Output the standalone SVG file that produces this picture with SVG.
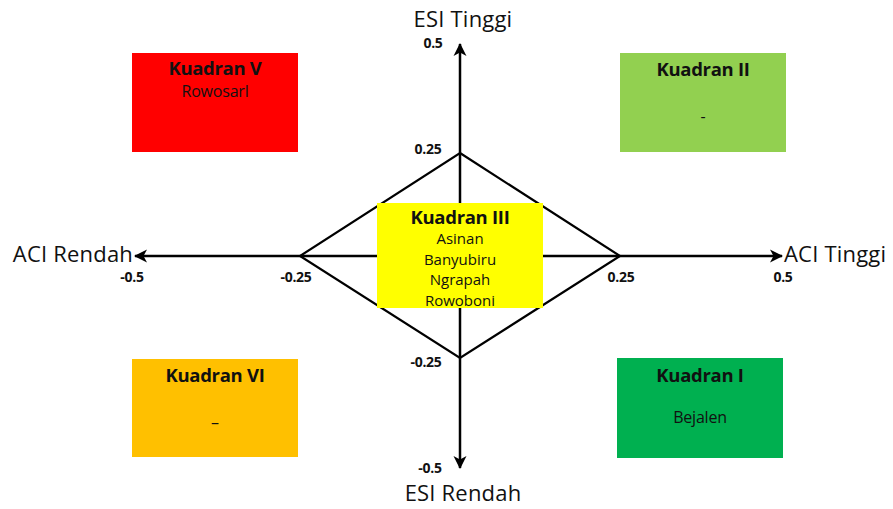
<svg xmlns="http://www.w3.org/2000/svg" width="893" height="509" viewBox="0 0 893 509">
<style>
text{font-family:"Open Sans","Noto Sans",sans-serif;fill:#111;}
.t{font-size:18.5px;font-weight:bold;text-anchor:middle;letter-spacing:-0.3px;}
.s{font-size:16px;font-weight:500;text-anchor:middle;letter-spacing:-0.2px;}
.s3{font-size:15px;font-weight:500;text-anchor:middle;letter-spacing:0px;}
.n{font-size:14px;font-weight:bold;text-anchor:middle;letter-spacing:-0.3px;}
.ax{font-size:22px;font-weight:500;letter-spacing:0.2px;}
.axis{stroke:#000;stroke-width:2.5;fill:none;}
.dia{stroke:#000;stroke-width:2.2;fill:none;}
</style>
<defs>
<marker id="arr" viewBox="0 0 14 14" refX="12" refY="7" markerWidth="14" markerHeight="14" markerUnits="userSpaceOnUse" orient="auto">
<path d="M0,0.5 L13,7 L0,13.5 L3.5,7 Z" fill="#000"/>
</marker>
</defs>
<g id="connectors">
<polygon class="dia" points="460,153 620,256 460,358 300,256"/>
<line class="axis" x1="460" y1="256" x2="460" y2="44" marker-end="url(#arr)"/>
<line class="axis" x1="460" y1="256" x2="460" y2="468" marker-end="url(#arr)"/>
<line class="axis" x1="460" y1="256" x2="782" y2="256" marker-end="url(#arr)"/>
<line class="axis" x1="460" y1="256" x2="135" y2="256" marker-end="url(#arr)"/>
</g>
<g id="labels">
<text class="ax" x="463" y="27" text-anchor="middle">ESI Tinggi</text>
<text class="ax" x="463" y="501" text-anchor="middle">ESI Rendah</text>
<text class="ax" x="133" y="262" text-anchor="end">ACI Rendah</text>
<text class="ax" x="784" y="262">ACI Tinggi</text>
<text class="n" x="433" y="48">0.5</text>
<text class="n" x="428" y="154">0.25</text>
<text class="n" x="426" y="367">-0.25</text>
<text class="n" x="430" y="473">-0.5</text>
<text class="n" x="132" y="282">-0.5</text>
<text class="n" x="296" y="282">-0.25</text>
<text class="n" x="621" y="282">0.25</text>
<text class="n" x="783" y="282">0.5</text>
</g>
<g id="kuadran-v">
<rect x="132" y="53" width="166" height="99" fill="#FF0000"/>
<text class="t" x="215" y="75">Kuadran V</text>
<text class="s" x="215" y="97">Rowosarl</text>
</g>
<g id="kuadran-ii">
<rect x="620" y="53" width="166" height="99" fill="#92D050"/>
<text class="t" x="703" y="76">Kuadran II</text>
<text class="s" x="703" y="122">-</text>
</g>
<g id="kuadran-vi">
<rect x="132" y="359" width="166" height="98" fill="#FFC000"/>
<text class="t" x="215" y="382">Kuadran VI</text>
<text class="s" x="215" y="428">–</text>
</g>
<g id="kuadran-i">
<rect x="617" y="358" width="166" height="100" fill="#00B050"/>
<text class="t" x="700" y="382">Kuadran I</text>
<text class="s" x="700" y="423">Bejalen</text>
</g>
<g id="kuadran-iii">
<rect x="377" y="203" width="166" height="105" fill="#FFFF00"/>
<text class="t" x="460" y="224">Kuadran III</text>
<text class="s3" x="460" y="244">Asinan</text>
<text class="s3" x="460" y="264.5">Banyubiru</text>
<text class="s3" x="460" y="285">Ngrapah</text>
<text class="s3" x="460" y="305.5">Rowoboni</text>
</g>
</svg>
